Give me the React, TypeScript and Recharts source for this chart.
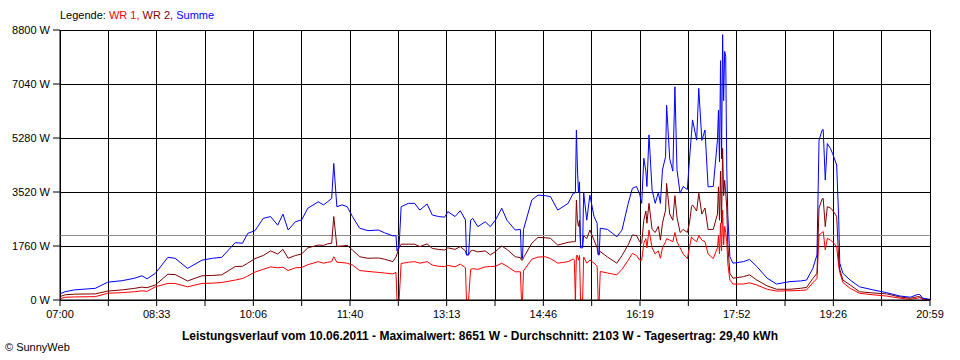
import { CartesianGrid, Line, LineChart, ReferenceLine, XAxis, YAxis } from 'recharts'

const times = [
  '07:00', '07:05', '07:14', '07:34', '07:46', '08:00', '08:12', '08:19', '08:24', '08:32',
  '08:44', '08:51', '09:03', '09:17', '09:27', '09:36', '09:49', '09:56', '10:01', '10:08',
  '10:16', '10:23', '10:30', '10:35', '10:40', '10:47', '10:53', '10:59', '11:09', '11:14',
  '11:18', '11:22', '11:24', '11:27', '11:32', '11:37', '11:42', '11:49', '11:57', '12:07',
  '12:13', '12:21', '12:24', '12:25', '12:27', '12:29', '12:36', '12:42', '12:47', '12:54',
  '12:59', '13:05', '13:11', '13:14', '13:21', '13:26', '13:31', '13:32', '13:34', '13:36',
  '13:38', '13:43', '13:50', '13:55', '14:00', '14:06', '14:11', '14:19', '14:24', '14:25',
  '14:26', '14:27', '14:35', '14:41', '14:48', '14:53', '15:00', '15:10', '15:15', '15:16',
  '15:17', '15:18', '15:19', '15:20', '15:21', '15:22', '15:24', '15:25', '15:28', '15:31',
  '15:35', '15:38', '15:39', '15:40', '15:41', '15:48', '15:57', '16:02', '16:08', '16:12',
  '16:16', '16:19', '16:21', '16:23', '16:25', '16:26', '16:28', '16:31', '16:34', '16:37',
  '16:39', '16:41', '16:44', '16:45', '16:48', '16:51', '16:53', '16:55', '16:58', '17:01',
  '17:05', '17:07', '17:09', '17:10', '17:14', '17:16', '17:19', '17:22', '17:25', '17:30',
  '17:34', '17:35', '17:36', '17:37', '17:38', '17:39', '17:40', '17:41', '17:42', '17:43',
  '17:44', '17:46', '17:49', '17:59', '18:05', '18:12', '18:22', '18:31', '18:44', '18:54',
  '19:00', '19:06', '19:10', '19:12', '19:15', '19:16', '19:18', '19:20', '19:23', '19:25',
  '19:29', '19:31', '19:32', '19:35', '19:42', '19:51', '20:04', '20:17', '20:30', '20:40',
  '20:47', '20:49', '20:52', '20:59',
]

const wr1 = [
  40, 90, 100, 110, 220, 240, 270, 300, 280, 430,
  540, 540, 430, 540, 550, 570, 650, 700, 780, 910,
  1000, 1080, 1050, 1070, 960, 1050, 1060, 1150, 1250, 1200,
  1230, 1250, 1410, 1230, 1220, 1200, 1140, 960, 930, 900,
  880, 850, 900, 0, 0, 1190, 1230, 1250, 1200, 1250,
  1140, 1100, 1090, 1130, 1080, 1170, 1050, 0, 0, 1000,
  1020, 1000, 1080, 1090, 1100, 1200, 1100, 920, 920, 0,
  0, 950, 1330, 1400, 1410, 1350, 1200, 1250, 1340, 1300,
  0, 1450, 1450, 1300, 1450, 0, 0, 1400, 1200, 1300,
  1200, 1100, 0, 0, 930, 880, 820, 1000, 1300, 1520,
  1450, 1300, 1300, 1850, 2000, 1700, 2280, 1700, 1500, 1600,
  1360, 1700, 1900, 2000, 1950, 1900, 2200, 1900, 1700, 1500,
  1350, 1700, 2060, 2000, 1900, 2100, 1950, 1900, 1500, 1350,
  1700, 2100, 1500, 2500, 1600, 2930, 1800, 2400, 2200, 1900,
  1200, 650, 520, 520, 560, 490, 350, 290, 300, 310,
  330, 560, 700, 2120, 2200, 2230, 1630, 2010, 1950, 1900,
  1740, 1090, 900, 570, 380, 220, 170, 130, 60, 20,
  60, 80, 20, 0,
]

const wr2 = [
  110, 170, 190, 200, 290, 330, 380, 420, 400, 490,
  840, 830, 620, 790, 800, 820, 1090, 1100, 1200, 1350,
  1450, 1600, 1500, 1650, 1360, 1450, 1500, 1700, 1790, 1780,
  1830, 1850, 2720, 1750, 1760, 1780, 1630, 1410, 1360, 1370,
  1330, 1250, 1400, 1500, 1700, 1820, 1820, 1820, 1740, 1830,
  1680, 1650, 1630, 1700, 1650, 1740, 1600, 1470, 1470, 1600,
  1620, 1570, 1600, 1470, 1580, 1760, 1650, 1410, 1380, 1300,
  1300, 1380, 1850, 2040, 2030, 2010, 1790, 1880, 1900, 1900,
  1900, 3260, 2600, 2400, 2600, 1750, 1750, 2100, 2000, 2280,
  1950, 1700, 1500, 1500, 1580, 1400, 1200, 1450, 1800, 2120,
  2100, 1900, 1850, 2600, 2900, 2500, 3150, 2300, 2200, 2400,
  1950, 2500, 2930, 3800, 2800, 2600, 3400, 2700, 2200, 2300,
  2200, 2500, 3040, 3100, 2900, 3480, 2800, 3000, 2300, 2300,
  2800, 3690, 2600, 4200, 2500, 4940, 3400, 3900, 3500, 3000,
  1800, 870, 710, 760, 820, 650, 460, 350, 350, 380,
  410, 700, 870, 3000, 3300, 3310, 2390, 3040, 3000, 2930,
  2720, 1300, 1000, 650, 490, 270, 230, 200, 100, 55,
  110, 110, 50, 0,
]

const summe = [
  200, 270, 330, 380, 580, 630, 710, 790, 690, 870,
  1390, 1360, 1030, 1300, 1360, 1390, 1870, 1850, 2170, 2260,
  2660, 2720, 2440, 2800, 2280, 2550, 2610, 2990, 3200, 3100,
  3200, 3310, 4450, 3040, 3100, 3040, 2720, 2340, 2260, 2280,
  2190, 2090, 2100, 1600, 1750, 3040, 3150, 3150, 2930, 3130,
  2770, 2720, 2700, 2880, 2720, 2910, 2610, 1470, 1470, 2600,
  2660, 2390, 2550, 2390, 2610, 2990, 2600, 2280, 2300, 1360,
  1360, 2300, 3260, 3420, 3400, 3370, 2930, 3150, 3480, 3480,
  3500, 5540, 4300, 3500, 3850, 1700, 1700, 3500, 2600, 3420,
  2720, 2500, 1470, 1470, 2340, 2300, 2060, 2280, 3150, 3640,
  3700, 3450, 3150, 4620, 4200, 3700, 5380, 3580, 3150, 3500,
  3150, 4240, 4670, 6350, 4600, 4200, 6950, 4240, 3480, 3700,
  3600, 4560, 5430, 5870, 5210, 6900, 5200, 5540, 3690, 3700,
  5210, 6190, 4500, 7800, 4600, 8650, 6500, 8100, 7930, 4300,
  2800, 1410, 1200, 1250, 1320, 1090, 710, 520, 600, 620,
  650, 1030, 1470, 5210, 5540, 5560, 3910, 5100, 4940, 4780,
  4400, 2600, 1200, 870, 650, 430, 330, 240, 130, 90,
  180, 180, 60, 20,
]

const timeLabels = ['07:00', '08:33', '10:06', '11:40', '13:13', '14:46', '16:19', '17:52', '19:26', '20:59']
const powerTicks = [0, 1760, 3520, 5280, 7040, 8800]
const average = 2103

const DAY_START = 7 * 60
const DAY_LENGTH = 839

const toMinutes = (t: string) => {
  const [h, m] = t.split(':').map(Number)
  return h * 60 + m - DAY_START
}

const data = times.map((t, i) => ({ t: toMinutes(t), wr1: wr1[i], wr2: wr2[i], summe: summe[i] }))
const timeTicks = Array.from({ length: timeLabels.length * 2 - 1 }, (_, i) => (i * DAY_LENGTH) / 18)

const font = '"Liberation Sans", Arial, sans-serif'
const tickStyle = { fill: '#000', fontSize: 11, fontFamily: font }

export default function App() {
  return (
    <div style={{ position: 'absolute', left: 0, top: 0, width: 960, height: 360, background: '#fff', fontFamily: font }}>
      <div style={{ position: 'absolute', left: 60, top: 9, fontSize: 11, whiteSpace: 'nowrap' }}>
        Legende: <span style={{ color: '#ff0000' }}>WR 1, </span>
        <span style={{ color: '#800000' }}>WR 2, </span>
        <span style={{ color: '#0000ff' }}>Summe</span>
      </div>

      <LineChart width={960} height={360} data={data} margin={{ top: 30, right: 30, bottom: 0, left: 0 }}>
        <CartesianGrid stroke="#000" strokeWidth={1} shapeRendering="crispEdges" />
        <XAxis
          dataKey="t"
          type="number"
          domain={[0, DAY_LENGTH]}
          ticks={timeTicks}
          interval={0}
          height={60}
          tickSize={6}
          tickMargin={4}
          stroke="#000"
          tick={tickStyle}
          tickFormatter={(_v: number, i: number) => (i % 2 === 0 ? timeLabels[i / 2] : '')}
        />
        <YAxis
          type="number"
          domain={[0, 8800]}
          ticks={powerTicks}
          width={60}
          tickSize={7}
          tickMargin={3}
          stroke="#000"
          tick={tickStyle}
          tickFormatter={(v: number) => `${v} W`}
        />
        <ReferenceLine y={average} stroke="#8c8c8c" strokeWidth={1} shapeRendering="crispEdges" />
        <Line type="linear" dataKey="wr1" stroke="#ff0000" strokeWidth={1} dot={false} isAnimationActive={false} />
        <Line type="linear" dataKey="wr2" stroke="#800000" strokeWidth={1} dot={false} isAnimationActive={false} />
        <Line type="linear" dataKey="summe" stroke="#0000ff" strokeWidth={1} dot={false} isAnimationActive={false} />
      </LineChart>

      <div
        style={{ position: 'absolute', left: 0, width: 960, top: 329, textAlign: 'center', fontSize: 12, fontWeight: 'bold', whiteSpace: 'nowrap' }}
      >
        Leistungsverlauf vom 10.06.2011 - Maximalwert: 8651 W - Durchschnitt: 2103 W - Tagesertrag: 29,40 kWh
      </div>
      <div style={{ position: 'absolute', left: 5, top: 341, fontSize: 11, whiteSpace: 'nowrap' }}>© SunnyWeb</div>
    </div>
  )
}
